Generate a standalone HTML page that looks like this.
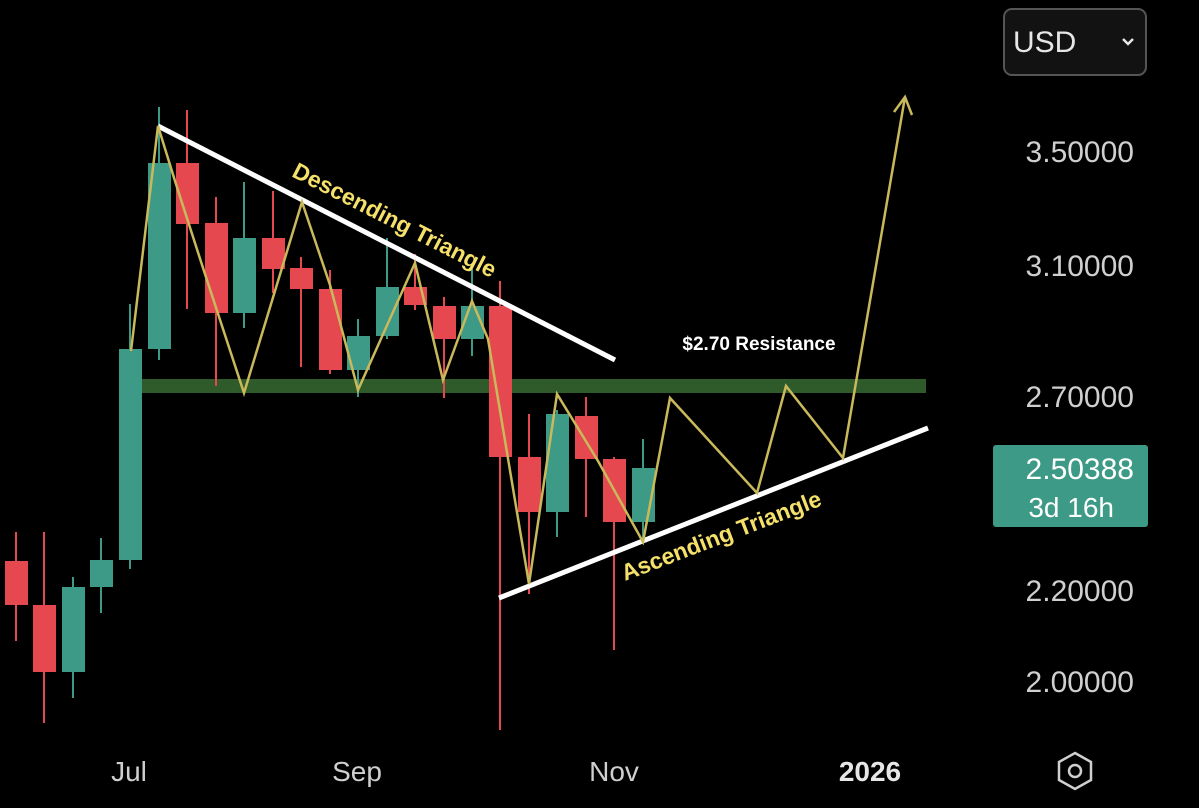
<!DOCTYPE html><html><head><style>body{margin:0;background:#000;}svg{display:block}</style></head><body>
<svg width="1199" height="808" viewBox="0 0 1199 808" xmlns="http://www.w3.org/2000/svg" font-family="Liberation Sans, sans-serif">
<rect width="1199" height="808" fill="#000"/>
<rect x="142" y="379" width="784" height="14" fill="#2f5a2a"/>
<g stroke-width="2">
<g fill="#e5484f" stroke="#e5484f">
<line x1="16" y1="532" x2="16" y2="641"/><rect x="5" y="561" width="23" height="44" stroke="none"/>
<line x1="44" y1="532" x2="44" y2="723"/><rect x="33" y="605" width="23" height="67" stroke="none"/>
<line x1="187" y1="110" x2="187" y2="309"/><rect x="176" y="163" width="23" height="61" stroke="none"/>
<line x1="216" y1="197" x2="216" y2="386"/><rect x="205" y="223" width="23" height="90" stroke="none"/>
<line x1="273" y1="191" x2="273" y2="293"/><rect x="262" y="238" width="23" height="31" stroke="none"/>
<line x1="301" y1="257" x2="301" y2="367"/><rect x="290" y="268" width="23" height="21" stroke="none"/>
<line x1="330" y1="270" x2="330" y2="374"/><rect x="319" y="289" width="23" height="81" stroke="none"/>
<line x1="415" y1="254" x2="415" y2="310"/><rect x="404" y="287" width="23" height="18" stroke="none"/>
<line x1="444" y1="297" x2="444" y2="398"/><rect x="433" y="306" width="23" height="33" stroke="none"/>
<line x1="500" y1="281" x2="500" y2="730"/><rect x="489" y="306" width="23" height="151" stroke="none"/>
<line x1="529" y1="414" x2="529" y2="594"/><rect x="518" y="457" width="23" height="55" stroke="none"/>
<line x1="586" y1="397" x2="586" y2="517"/><rect x="575" y="416" width="23" height="43" stroke="none"/>
<line x1="614" y1="457" x2="614" y2="650"/><rect x="603" y="459" width="23" height="63" stroke="none"/>
</g>
<g fill="#3d9a86" stroke="#3d9a86">
<line x1="73" y1="577" x2="73" y2="698"/><rect x="62" y="587" width="23" height="85" stroke="none"/>
<line x1="101" y1="538" x2="101" y2="613"/><rect x="90" y="560" width="23" height="27" stroke="none"/>
<line x1="130" y1="304" x2="130" y2="569"/><rect x="119" y="349" width="23" height="211" stroke="none"/>
<line x1="159" y1="107" x2="159" y2="360"/><rect x="148" y="163" width="23" height="186" stroke="none"/>
<line x1="244" y1="182" x2="244" y2="328"/><rect x="233" y="238" width="23" height="75" stroke="none"/>
<line x1="358" y1="319" x2="358" y2="397"/><rect x="347" y="336" width="23" height="34" stroke="none"/>
<line x1="387" y1="238" x2="387" y2="339"/><rect x="376" y="287" width="23" height="49" stroke="none"/>
<line x1="472" y1="269" x2="472" y2="356"/><rect x="461" y="306" width="23" height="33" stroke="none"/>
<line x1="557" y1="410" x2="557" y2="537"/><rect x="546" y="414" width="23" height="98" stroke="none"/>
<line x1="643" y1="439" x2="643" y2="543"/><rect x="632" y="468" width="23" height="54" stroke="none"/>
</g>
</g>
<line x1="158" y1="126" x2="615" y2="360" stroke="#fff" stroke-width="5"/>
<line x1="499" y1="598" x2="928" y2="428" stroke="#fff" stroke-width="5"/>
<polyline fill="none" stroke="#c9b95a" stroke-width="2.5" points="131,351 158,126 175,181 204,271 244,393 302,202 330,285 358,390 415,263 443,380 472,301 488,339 529,584 557,394 598,461 643,542 670,398 757,493 786,386 843,458 905,97"/>
<polyline fill="none" stroke="#c9b95a" stroke-width="2.5" points="894,112 905,97 912,115"/>
<text transform="translate(391,227) rotate(27)" text-anchor="middle" font-size="23" font-weight="bold" fill="#f5e06a">Descending Triangle</text>
<text transform="translate(724,543) rotate(-21)" text-anchor="middle" font-size="23" font-weight="bold" fill="#f5e06a">Ascending Triangle</text>
<text x="759" y="350" text-anchor="middle" font-size="19" font-weight="bold" fill="#fff">$2.70 Resistance</text>
<g font-size="30" fill="#cfcfcf" text-anchor="end">
<text x="1134" y="162">3.50000</text>
<text x="1134" y="276">3.10000</text>
<text x="1134" y="407">2.70000</text>
<text x="1134" y="601">2.20000</text>
<text x="1134" y="692">2.00000</text>
</g>
<rect x="993" y="445" width="155" height="82" rx="3" fill="#3d9a86"/>
<text x="1134" y="479" text-anchor="end" font-size="30" fill="#fff">2.50388</text>
<text x="1114" y="517" text-anchor="end" font-size="28" fill="#fff">3d 16h</text>
<rect x="1004" y="9" width="142" height="66" rx="8" fill="#121212" stroke="#555" stroke-width="2"/>
<text x="1013" y="52" font-size="30" fill="#e6e6e6">USD</text>
<polyline points="1123,39 1128,44 1133,39" fill="none" stroke="#e6e6e6" stroke-width="2.5"/>
<g font-size="28" fill="#cfcfcf" text-anchor="middle">
<text x="129" y="781">Jul</text>
<text x="357" y="781">Sep</text>
<text x="614" y="781">Nov</text>
<text x="870" y="781" font-weight="bold" fill="#e6e6e6">2026</text>
</g>
<polygon points="1075,753 1091,762 1091,780 1075,789 1059,780 1059,762" fill="none" stroke="#cfcfcf" stroke-width="2.5"/>
<circle cx="1075" cy="771" r="6" fill="none" stroke="#cfcfcf" stroke-width="2.5"/>
</svg></body></html>
